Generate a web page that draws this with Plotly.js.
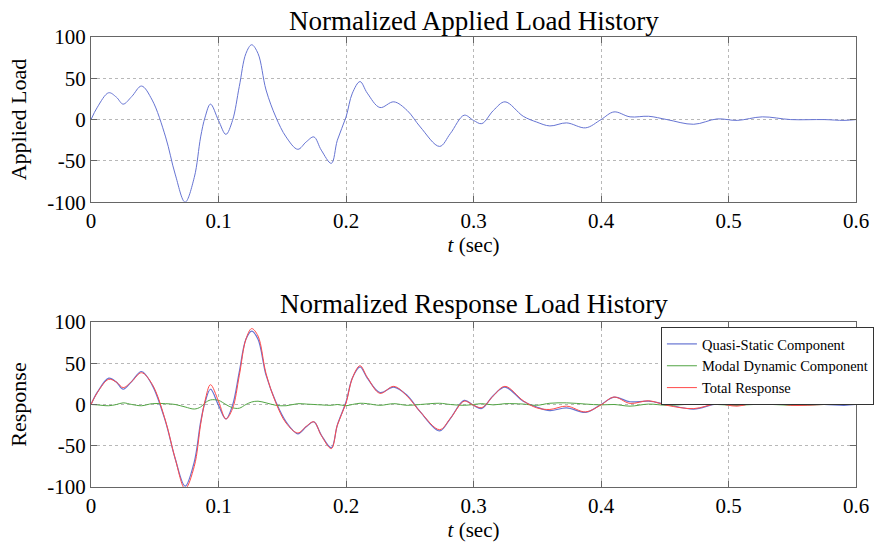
<!DOCTYPE html>
<html>
<head>
<meta charset="utf-8">
<script src="https://cdn.plot.ly/plotly-3.0.1.min.js"></script>
<style>html,body{margin:0;padding:0;background:#fff;}#chart{width:884px;height:542px;}</style>
</head>
<body>
<div id="chart"></div>
<script>
// Time samples (sec)
const timeSec = [0, 0.005, 0.0139, 0.02, 0.0252, 0.032, 0.0396, 0.048, 0.0585, 0.066, 0.0738, 0.081, 0.086, 0.0895, 0.0937, 0.1, 0.1058, 0.111, 0.1163, 0.1215, 0.126, 0.131, 0.1373, 0.145, 0.153, 0.1622, 0.1688, 0.1748, 0.1806, 0.1885, 0.1932, 0.2, 0.205, 0.211, 0.2167, 0.2266, 0.2375, 0.248, 0.2583, 0.2734, 0.2818, 0.2927, 0.3, 0.3065, 0.3156, 0.3247, 0.339, 0.3495, 0.3599, 0.373, 0.388, 0.4, 0.4102, 0.4228, 0.4373, 0.4517, 0.4727, 0.4911, 0.5068, 0.5265, 0.5488, 0.575, 0.5906, 0.6];
// Normalized applied load
const appliedLoad = [0, 15, 32.5, 27, 18.7, 28, 40.6, 23.6, -21, -66, -100, -70, -21, 3, 18.7, -1, -17.9, -1, 40, 80, 90.6, 80, 35.8, 3, -21, -36, -27, -21, -37, -53, -25, 3, 32, 46, 32, 14.6, 21.5, 11, -9, -32.5, -17, 5.3, -1, -4.9, 11, 21.5, 4, -3, -7.7, -4, -10, 0, 9.3, 3.3, 4, 0, -5.7, 0.8, -1, 3.3, 0, 0, -1, 0];
// Response components
const quasiStatic = [0, 15, 32, 27, 18.5, 28, 40, 23.5, -21, -65.5, -99, -69.5, -21, 3, 18.5, -1, -17.5, -1, 39.5, 79, 89, 79, 35.5, 3, -21, -35.5, -27, -21, -37, -52.5, -25, 3, 32, 45.5, 32, 14.5, 21, 11, -9, -32, -17, 5, -1, -4.8, 11, 21, 4, -3, -7.5, -4, -9.5, 0, 9, 3.3, 4, 0, -5.5, 0.8, -1, 3.3, 0, 0, -1, 0];
const modalDynamic = [0, -0.5, -1.5, 0, 2, 0, -1.5, 1, 1, 0, -3, -5.5, -3, 2, 5.5, 5, 0, -4, -4.5, 0, 3, 4, 2, -1, -1.5, 1, 0.5, 0, -0.5, -1, 0, -1.5, 0, 1.5, 1, -1, 1, -1, 0, 1.5, 0, -1, 0, 1, -0.5, 1, 0.5, -1, 1.5, 2, 0.5, -0.5, 0, -2, 0.5, -1, 0.5, 0, -1, 0.5, -1, 0, 1, 0];
const totalResponse = [0, 14.5, 30.5, 27, 20.5, 28, 38.5, 24.5, -20, -65.5, -102, -75, -24, 5, 24, 4, -17.5, -5, 35, 79, 92, 83, 37.5, 2, -22.5, -34.5, -26.5, -21, -37.5, -53.5, -25, 1.5, 32, 47, 33, 13.5, 22, 10, -9, -30.5, -17, 4, -1, -3.8, 10.5, 22, 4.5, -4, -6, -2, -9, -0.5, 9, 1.3, 4.5, -1, -5, 0.8, -2, 3.8, -1, 0, 0, 0];

const xTicks = [0, 0.1, 0.2, 0.3, 0.4, 0.5, 0.6];
const xTickText = ['0', '0.1', '0.2', '0.3', '0.4', '0.5', '0.6'];
const yTicks = [-100, -50, 0, 50, 100];
const yTickText = ['-100', '-50', '0', '50', '100'];

const serif = 'Liberation Serif, Times New Roman, serif';
const traces = [
  {x: timeSec, y: appliedLoad, xaxis: 'x', yaxis: 'y', mode: 'lines', showlegend: false,
   line: {color: '#6674d2', width: 1, shape: 'spline', smoothing: 1}},
  {x: timeSec, y: quasiStatic, xaxis: 'x2', yaxis: 'y2', mode: 'lines', name: 'Quasi-Static Component',
   line: {color: '#6674d2', width: 1.2, shape: 'spline', smoothing: 1}},
  {x: timeSec, y: modalDynamic, xaxis: 'x2', yaxis: 'y2', mode: 'lines', name: 'Modal Dynamic Component',
   line: {color: '#52a544', width: 1, shape: 'spline', smoothing: 1}},
  {x: timeSec, y: totalResponse, xaxis: 'x2', yaxis: 'y2', mode: 'lines', name: 'Total Response',
   line: {color: '#ff4a4a', width: 1, shape: 'spline', smoothing: 1}}
];

function xAxis(anchor) {
  return {anchor: anchor, range: [0, 0.6], tickvals: xTicks, ticktext: xTickText,
    ticks: 'inside', ticklen: 6, tickcolor: '#666', mirror: 'ticks', showline: true, linecolor: '#666', linewidth: 1,
    showgrid: true, gridcolor: '#b8b8b8', griddash: 'dot', gridwidth: 1, zeroline: false, automargin: false,
    tickfont: {family: serif, size: 21, color: '#000'},
    title: {text: '<i>t</i> (sec)', font: {family: serif, size: 21, color: '#000'}, standoff: 2}};
}
function yAxis(anchor, domain, title) {
  return {anchor: anchor, domain: domain, range: [-100, 100], tickvals: yTicks, ticktext: yTickText,
    ticks: 'inside', ticklen: 6, tickcolor: '#666', mirror: 'ticks', showline: true, linecolor: '#666', linewidth: 1,
    showgrid: true, gridcolor: '#b8b8b8', griddash: 'dot', gridwidth: 1, zeroline: false, automargin: false,
    tickfont: {family: serif, size: 21, color: '#000'},
    title: {text: title, font: {family: serif, size: 22, color: '#000'}, standoff: 14}};
}

const layout = {
  width: 884, height: 542,
  margin: {l: 91, r: 28, t: 37, b: 55, autoexpand: false},
  paper_bgcolor: '#fff', plot_bgcolor: '#fff',
  xaxis: xAxis('y'),
  yaxis: yAxis('x', [0.633, 1], 'Applied Load'),
  xaxis2: xAxis('y2'),
  yaxis2: yAxis('x2', [0, 0.3667], 'Response'),
  showlegend: true,
  legend: {x: 0.745, y: 0.3556, xanchor: 'left', yanchor: 'top', bgcolor: '#fff',
    bordercolor: '#333', borderwidth: 1, font: {family: serif, size: 14.5, color: '#000'},
    itemwidth: 30, tracegroupgap: 0},
  annotations: [
    {text: 'Normalized Applied Load History', xref: 'paper', yref: 'paper', x: 0.5, y: 1, yanchor: 'bottom', yshift: -1,
     showarrow: false, font: {family: serif, size: 27, color: '#000'}},
    {text: 'Normalized Response Load History', xref: 'paper', yref: 'paper', x: 0.5, y: 0.3667, yanchor: 'bottom', yshift: 1,
     showarrow: false, font: {family: serif, size: 27, color: '#000'}}
  ]
};

Plotly.newPlot('chart', traces, layout, {displayModeBar: false, staticPlot: true});
</script>
</body>
</html>
